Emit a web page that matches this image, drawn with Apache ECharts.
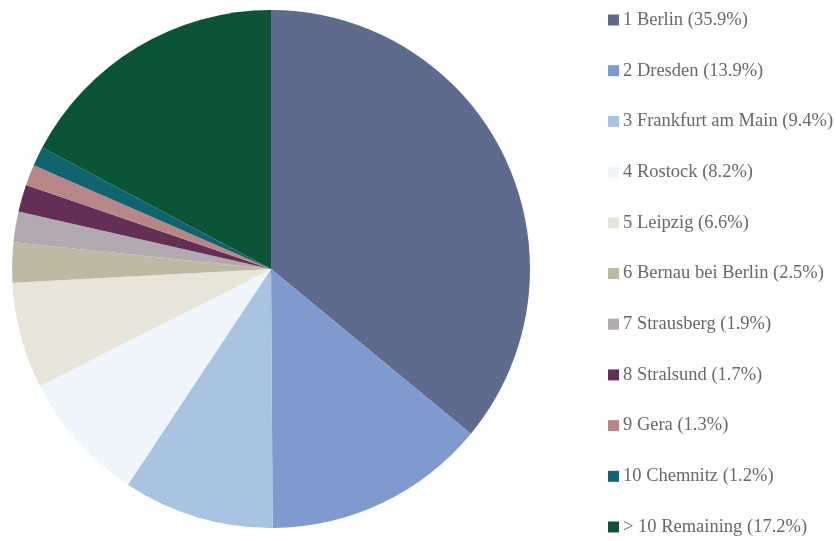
<!DOCTYPE html>
<html>
<head>
<meta charset="utf-8">
<script src="https://cdn.jsdelivr.net/npm/echarts@6/dist/echarts.min.js"></script>
<style>
  html, body { margin: 0; padding: 0; background: #ffffff; }
  #chart { width: 836px; height: 541px; }
</style>
</head>
<body>
<div id="chart"></div>
<script>
// City shares (percent) shown as slices, in legend order
const cities = ["1 Berlin", "2 Dresden", "3 Frankfurt am Main", "4 Rostock", "5 Leipzig",
  "6 Bernau bei Berlin", "7 Strausberg", "8 Stralsund", "9 Gera", "10 Chemnitz", "> 10 Remaining"];
const shares = [35.9, 13.9, 9.4, 8.2, 6.6, 2.5, 1.9, 1.7, 1.3, 1.2, 17.2];
const colors = ["#5e6b8d", "#7f9acf", "#a8c4e2", "#eef6fc", "#e8e4da", "#bdb9a2",
  "#b3a9b0", "#642f54", "#b98688", "#0f6470", "#0b5536"];

const data = cities.map((c, i) => ({ name: c, value: shares[i], itemStyle: { color: colors[i] } }));

const chart = echarts.init(document.getElementById('chart'), null, { renderer: 'canvas' });
chart.setOption({
  animation: false,
  backgroundColor: '#ffffff',
  legend: {
    orient: 'vertical',
    left: 608,
    top: 10,
    padding: 0,
    icon: 'rect',
    itemWidth: 11,
    itemHeight: 11,
    itemGap: 30.7,
    textStyle: { fontFamily: 'Liberation Serif', fontSize: 18.5, lineHeight: 20, color: '#686868', padding: [0, 0, 0, -1] },
    formatter: function (name) {
      const i = cities.indexOf(name);
      return name + ' (' + shares[i].toFixed(1) + '%)';
    },
    data: cities
  },
  series: [{
    type: 'pie',
    center: [271, 269],
    radius: 259,
    startAngle: 90,
    clockwise: true,
    label: { show: false },
    labelLine: { show: false },
    itemStyle: { borderWidth: 0 },
    emphasis: { disabled: true },
    data: data
  }]
});
</script>
</body>
</html>
